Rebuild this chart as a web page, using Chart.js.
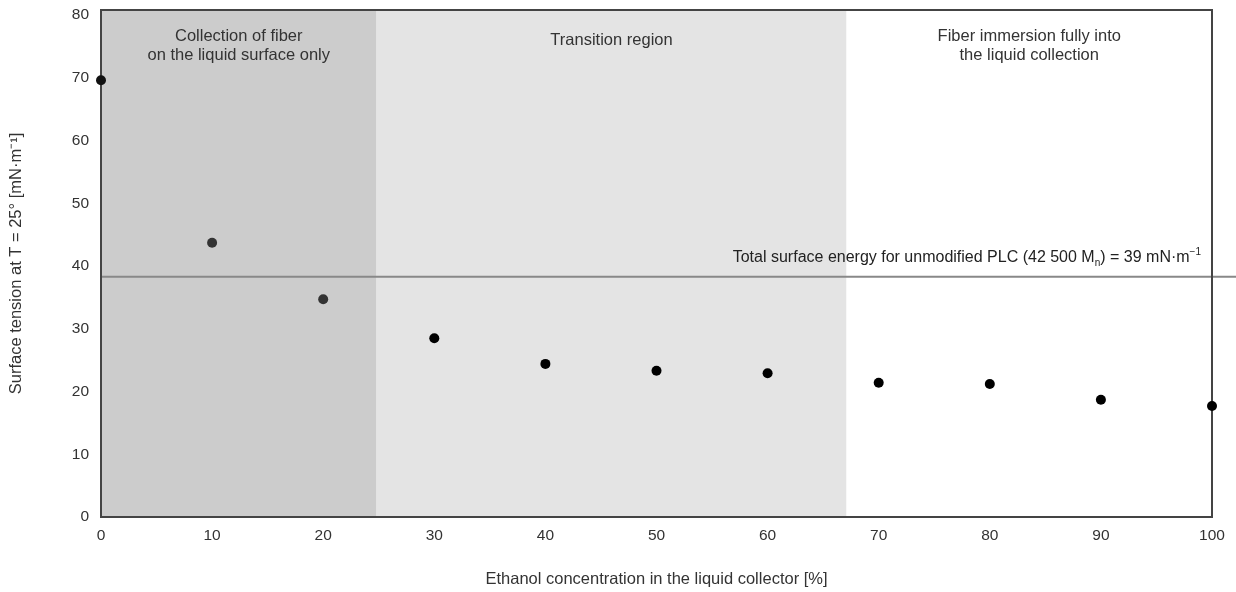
<!DOCTYPE html>
<html>
<head>
<meta charset="utf-8">
<script src="https://cdn.jsdelivr.net/npm/chart.js@4.4.1/dist/chart.umd.min.js"></script>
<style>
html,body{margin:0;padding:0;background:#fff;}
#wrap{width:1236px;height:592px;position:relative;}
</style>
</head>
<body>
<div id="wrap"><canvas id="c" width="1236" height="592"></canvas></div>
<script>
// Data
const ethanol = [0, 10, 20, 30, 40, 50, 60, 70, 80, 90, 100];
const surfaceTension = [69.6, 43.7, 34.7, 28.5, 24.4, 23.3, 22.9, 21.4, 21.2, 18.7, 17.7];
const yTicks = [0, 10, 20, 30, 40, 50, 60, 70, 80];
const xTicks = [0, 10, 20, 30, 40, 50, 60, 70, 80, 90, 100];
const regionBounds = [0, 24.8, 67.1, 100];
const regionLabels = [
  ['Collection of fiber', 'on the liquid surface only'],
  ['Transition region'],
  ['Fiber immersion fully into', 'the liquid collection']
];
const referenceEnergy = 38.3;
const refLabelMain = 'Total surface energy for unmodified PLC (42 500 M';
const refLabelSub = 'n';
const refLabelRest = ') = 39 mN·m';
const refLabelSup = '−1';

const FONT = '"Liberation Sans", Arial, sans-serif';
const pointColors = ['#111', '#333', '#333', '#000', '#000', '#000', '#000', '#000', '#000', '#000', '#000'];

const decor = {
  id: 'decor',
  beforeDatasetsDraw(chart) {
    const {ctx, chartArea: a, scales: {x, y}} = chart;
    ctx.save();
    const fills = ['#cccccc', '#e4e4e4', '#ffffff'];
    for (let i = 0; i < 3; i++) {
      const x0 = x.getPixelForValue(regionBounds[i]);
      const x1 = x.getPixelForValue(regionBounds[i + 1]);
      ctx.fillStyle = fills[i];
      ctx.fillRect(x0, a.top, x1 - x0, a.bottom - a.top);
    }
    // region labels
    ctx.fillStyle = '#333';
    ctx.font = '16.5px ' + FONT;
    ctx.textAlign = 'center';
    ctx.textBaseline = 'middle';
    for (let i = 0; i < 3; i++) {
      const cx = (x.getPixelForValue(regionBounds[i]) + x.getPixelForValue(regionBounds[i + 1])) / 2;
      const lines = regionLabels[i];
      const startY = lines.length === 1 ? 40 : 36;
      lines.forEach((t, j) => ctx.fillText(t, cx, startY + j * 19.5));
    }
    // reference line
    const ly = y.getPixelForValue(referenceEnergy);
    ctx.strokeStyle = '#888';
    ctx.lineWidth = 2;
    ctx.beginPath();
    ctx.moveTo(a.left, ly);
    ctx.lineTo(chart.width, ly);
    ctx.stroke();
    // reference label
    ctx.textAlign = 'left';
    ctx.textBaseline = 'alphabetic';
    const big = '16px ' + FONT, small = '10px ' + FONT;
    ctx.font = big;
    const w1 = ctx.measureText(refLabelMain).width;
    const w3 = ctx.measureText(refLabelRest).width;
    ctx.font = small;
    const w2 = ctx.measureText(refLabelSub).width;
    const w4 = ctx.measureText(refLabelSup).width;
    const endX = 1201;
    let sx = endX - (w1 + w2 + w3 + w4);
    const by = ly - 15;
    ctx.fillStyle = '#222';
    ctx.font = big;
    ctx.fillText(refLabelMain, sx, by); sx += w1;
    ctx.font = small;
    ctx.fillText(refLabelSub, sx, by + 4); sx += w2;
    ctx.font = big;
    ctx.fillText(refLabelRest, sx, by); sx += w3;
    ctx.font = small;
    ctx.fillText(refLabelSup, sx, by - 7);
    // frame
    ctx.strokeStyle = '#444';
    ctx.lineWidth = 2;
    ctx.strokeRect(a.left, a.top, a.right - a.left, a.bottom - a.top);
    ctx.restore();
  }
};

new Chart(document.getElementById('c'), {
  type: 'scatter',
  data: {
    datasets: [{
      data: ethanol.map((v, i) => ({x: v, y: surfaceTension[i]})),
      pointRadius: 5,
      pointHoverRadius: 5,
      pointBackgroundColor: pointColors,
      pointBorderWidth: 0,
      showLine: false,
      clip: false
    }]
  },
  options: {
    responsive: false,
    animation: false,
    events: [],
    layout: {padding: {top: 0, right: 24, left: 0, bottom: 0}},
    plugins: {legend: {display: false}, tooltip: {enabled: false}},
    scales: {
      x: {
        type: 'linear',
        min: 0, max: 100,
        afterBuildTicks(s) { s.ticks = xTicks.map(v => ({value: v})); },
        afterFit(s) { s.height = 75; s.paddingLeft = 0; s.paddingRight = 0; },
        grid: {display: false, drawTicks: false},
        border: {display: false},
        ticks: {padding: 9, color: '#333', font: {family: FONT, size: 15.5}, maxRotation: 0},
        title: {display: true, text: 'Ethanol concentration in the liquid collector [%]', color: '#333',
                font: {family: FONT, size: 16.5}, padding: {top: 0, bottom: 3}}
      },
      y: {
        type: 'linear',
        min: 0, max: 80.8,
        afterBuildTicks(s) { s.ticks = yTicks.map(v => ({value: v})); },
        afterFit(s) { s.width = 101; s.paddingTop = 10; s.paddingBottom = 0; },
        grid: {display: false, drawTicks: false},
        border: {display: false},
        ticks: {padding: 12, color: '#333', font: {family: FONT, size: 15.5}},
        title: {display: true, text: 'Surface tension at T = 25° [mN·m⁻¹]', color: '#333',
                font: {family: FONT, size: 16.5}, padding: {top: 7, bottom: 0}}
      }
    }
  },
  plugins: [decor]
});
</script>
</body>
</html>
